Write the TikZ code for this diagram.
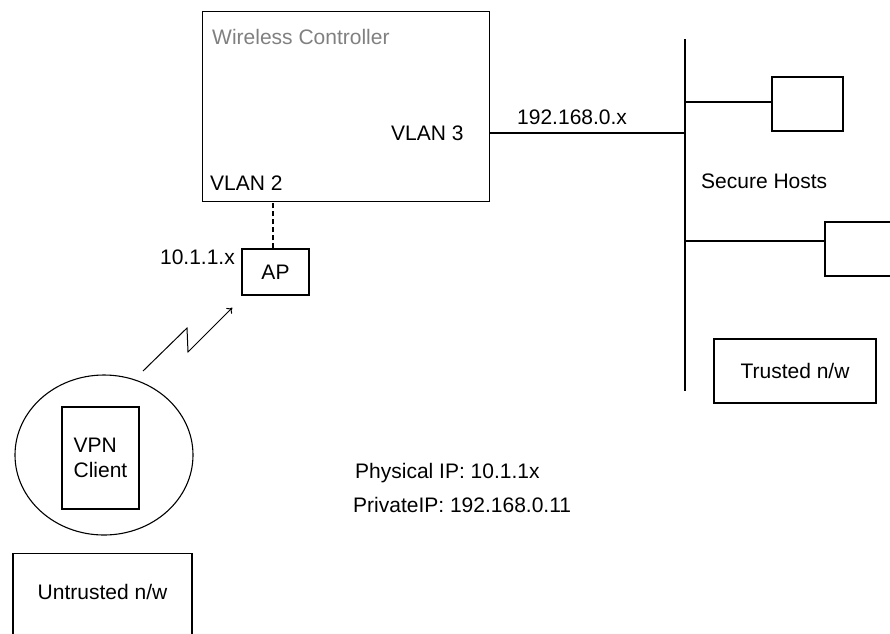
\documentclass[tikz,border=0pt]{standalone}
\usepackage{fontspec}
\setmainfont{Liberation Sans}
\usepackage{xcolor}
\usetikzlibrary{shapes.geometric,arrows.meta,positioning,calc}

\begin{document}
\begin{tikzpicture}[
    x=1pt, y=-1pt,
    every node/.style={font=\fontsize{21}{25}\selectfont},
    box/.style={rectangle, draw, line width=1.3pt, inner sep=0pt},
    txt/.style={inner sep=0pt, anchor=west},
    wire/.style={line width=1.3pt},
    radio/.style={line width=1pt, -{To[length=5pt, width=8pt]}},
  ]
    \useasboundingbox (0,0) rectangle (890,633);

    % Nodes
    \node[box, minimum width=287pt, minimum height=190pt, anchor=north west] (wlc) at (202,11) {};
    \node[txt, text=black!50] (wlctitle) at (212,37) {Wireless Controller};
    \node[txt] (vlan3) at (391,133) {VLAN 3};
    \node[txt] (vlan2) at (210,183) {VLAN 2};
    \node[box, minimum width=67pt, minimum height=46pt] (ap) at (275.5,272) {AP};
    \node[txt, anchor=east] (apip) at (235,257) {10.1.1.x};

    \coordinate (bustop) at (685,39);
    \coordinate (busbot) at (685,391);
    \coordinate (tap0) at (685,133);
    \coordinate (tap1) at (685,102);
    \coordinate (tap2) at (685,241);
    \node[txt] (subnet) at (517,117) {192.168.0.x};
    \node[box, minimum width=71pt, minimum height=54pt] (host1) at (807.5,104) {};
    \node[box, minimum width=75pt, minimum height=54pt] (host2) at (862.5,249) {};
    \node[txt] (secure) at (701,181) {Secure Hosts};
    \node[box, minimum width=162pt, minimum height=64pt] (trusted) at (795,371) {Trusted n/w};

    \node[ellipse, draw, line width=1.1pt, minimum width=178pt, minimum height=160pt] (client) at (104,455) {};
    \node[box, minimum width=77pt, minimum height=102pt, align=left] (vpn) at (100.5,458) {VPN\\Client};
    \node[box, minimum width=179pt, minimum height=95pt, anchor=north] (untrusted) at (102.5,553) {};
    \node[inner sep=0pt] (untrustedlbl) at (102.5,592) {Untrusted n/w};

    \node[txt] (physip) at (355,473) {Physical IP: 10.1.1x};
    \node[txt] (privip) at (353,505) {PrivateIP: 192.168.0.11};

    % Arrows
    \draw[wire, dashed, dash pattern=on 5pt off 3pt] (ap.north -| 273,0) -- (wlc.south -| 273,0);
    \draw[wire] (wlc.east |- tap0) -- (tap0);
    \draw[wire] (bustop) -- (busbot);
    \draw[wire] (tap1) -- (tap1 -| host1.west);
    \draw[wire] (tap2) -- (tap2 -| host2.west);
    \draw[radio] ($(client.center)+(39,-84)$) -- (187,328) -- (188,352)
      -- ($(ap.south west)+(-9,12)$);
  \end{tikzpicture}
\end{document}
